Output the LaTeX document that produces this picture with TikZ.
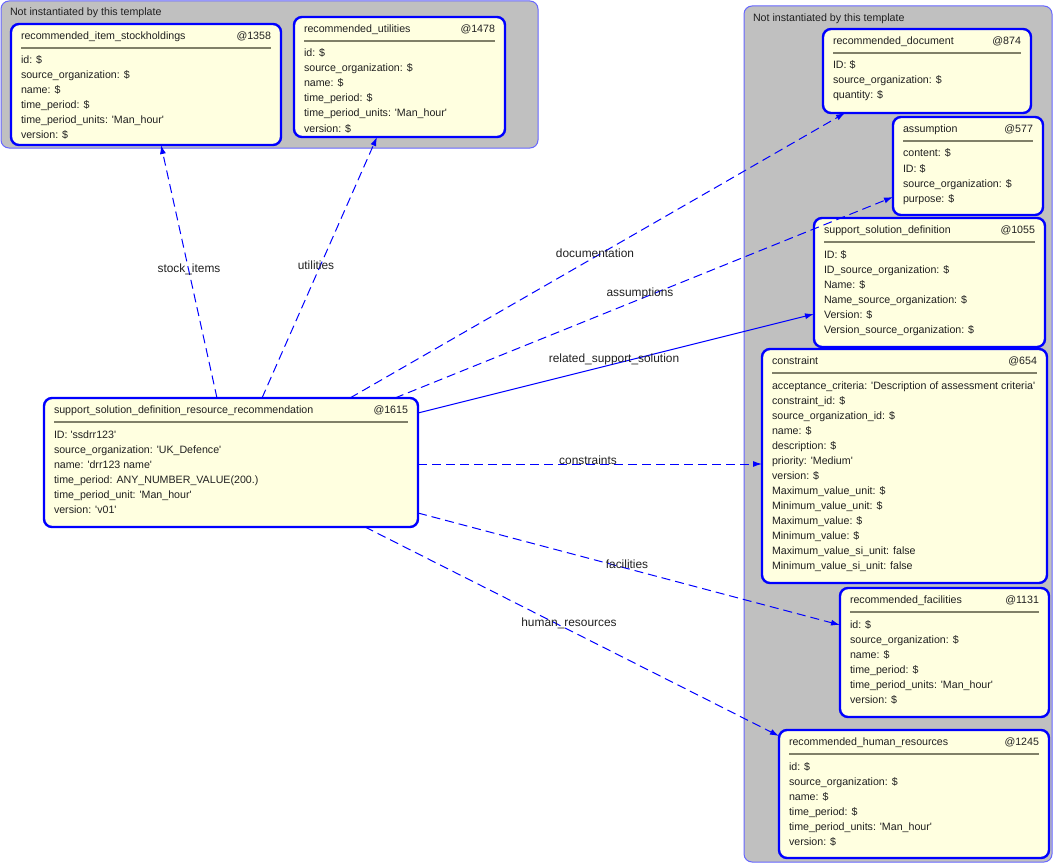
\documentclass[tikz,border=0pt]{standalone}
\usepackage{fontspec}
\setmainfont{Liberation Sans}[Ligatures=TeXOff]
\usetikzlibrary{arrows.meta}
\definecolor{boxfill}{HTML}{FFFFE0}
\definecolor{boxline}{HTML}{0000FF}
\definecolor{grpfill}{HTML}{C0C0C0}
\definecolor{grpline}{HTML}{6666FF}
\definecolor{sepline}{HTML}{808068}
\definecolor{txtc}{HTML}{202020}
\tikzset{
 ebox/.style={draw=boxline, fill=boxfill, line width=2.4pt, rounded corners=8pt, inner sep=0pt, outer sep=0pt},
 grp/.style={draw=grpline, fill=grpfill, line width=1pt, rounded corners=8pt, inner sep=0pt, outer sep=0pt},
 txt/.style={inner sep=0pt, outer sep=0pt, text=txtc, font=\fontsize{10.65}{12}\selectfont},
 lbl/.style={inner sep=0pt, text=txtc, font=\fontsize{11.9}{14}\selectfont},
 sepln/.style={draw=sepline, line width=2pt},
 conn/.style={draw=boxline, line width=1pt, -{Latex[length=9pt,width=6pt]}},
 dconn/.style={conn, dash pattern=on 9pt off 5pt},
}
\newcommand\entity[8]{%
 \node[ebox, minimum width=#4pt, minimum height=#5pt, anchor=north west] (#1) at (#2,-#3) {};
 \node[txt, anchor=base west] (#1-title) at (#2+10,-#3-15.5) {#6};
 \node[txt, anchor=base east] (#1-id) at (#2+#4-10,-#3-15.5) {#7};
 \draw[sepln] (#2+10,-#3-24) -- (#2+#4-10,-#3-24);
 \foreach \a [count=\i] in {#8} {\node[txt, anchor=base west] (#1-a\i) at (#2+10,-#3-25-15*\i) {\a};}
}
\begin{document}
\begin{tikzpicture}[x=1pt,y=1pt]
\useasboundingbox (0,0) rectangle (1054,-864);
% groups
\node[grp, minimum width=537pt, minimum height=147pt, anchor=north west] (g1) at (1,-1) {};
\node[txt, anchor=base west] (g1t) at (10,-16) {Not instantiated by this template};
\node[grp, minimum width=308pt, minimum height=856pt, anchor=north west] (g2) at (744,-6) {};
\node[txt, anchor=base west] (g2t) at (753,-22) {Not instantiated by this template};
% entities
\entity{stock}{11}{24}{270}{121}{recommended\_item\_stockholdings}{@1358}{id: \$, source\_organization: \$, name: \$, time\_period: \$, time\_period\_units: 'Man\_hour', version: \$}
\entity{util}{294}{17}{211}{120}{recommended\_utilities}{@1478}{id: \$, source\_organization: \$, name: \$, time\_period: \$, time\_period\_units: 'Man\_hour', version: \$}
\entity{doc}{823}{29}{208}{84}{recommended\_document}{@874}{ID: \$, source\_organization: \$, quantity: \$}
\entity{assum}{893}{117}{150}{98}{assumption}{@577}{content: \$, ID: \$, source\_organization: \$, purpose: \$}
\entity{ssd}{814}{218}{231}{129}{support\_solution\_definition}{@1055}{ID: \$, ID\_source\_organization: \$, Name: \$, Name\_source\_organization: \$, Version: \$, Version\_source\_organization: \$}
\entity{cons}{762}{349}{285}{234}{constraint}{@654}{acceptance\_criteria: 'Description of assessment criteria', constraint\_id: \$, source\_organization\_id: \$, name: \$, description: \$, priority: 'Medium', version: \$, Maximum\_value\_unit: \$, Minimum\_value\_unit: \$, Maximum\_value: \$, Minimum\_value: \$, Maximum\_value\_si\_unit: false, Minimum\_value\_si\_unit: false}
\entity{fac}{840}{588}{209}{129}{recommended\_facilities}{@1131}{id: \$, source\_organization: \$, name: \$, time\_period: \$, time\_period\_units: 'Man\_hour', version: \$}
\entity{hum}{779}{730}{270}{128}{recommended\_human\_resources}{@1245}{id: \$, source\_organization: \$, name: \$, time\_period: \$, time\_period\_units: 'Man\_hour', version: \$}
\entity{main}{44}{398}{374}{129}{support\_solution\_definition\_resource\_recommendation}{@1615}{ID: 'ssdrr123', source\_organization: 'UK\_Defence', name: 'drr123 name', time\_period: ANY\_NUMBER\_VALUE(200.), time\_period\_unit: 'Man\_hour', version: 'v01'}
% connectors
\draw[dconn] ([xshift=173pt]main.north west) -- ([xshift=150pt]stock.south west);
\draw[dconn] ([xshift=218pt]main.north west) -- ([xshift=83pt]util.south west);
\draw[dconn] ([xshift=306pt]main.north west) -- ([xshift=22pt]doc.south west);
\draw[dconn] ([xshift=351pt]main.north west) -- ([yshift=-80pt]assum.north west);
\draw[conn] ([yshift=-15pt]main.north east) -- ([yshift=-96pt]ssd.north west);
\draw[dconn] ([yshift=-66pt]main.north east) -- ([yshift=-115pt]cons.north west);
\draw[dconn] ([yshift=-115pt]main.north east) -- ([yshift=-37pt]fac.north west);
\draw[dconn] ([xshift=321pt]main.south west) -- ([yshift=-6pt]hum.north west);
% labels
\node[lbl] (l1) at (189,-269) {stock\_items};
\node[lbl] (l2) at (316,-265) {utilities};
\node[lbl] (l3) at (595,-253) {documentation};
\node[lbl] (l4) at (640,-293) {assumptions};
\node[lbl] (l5) at (614,-359) {related\_support\_solution};
\node[lbl] (l6) at (588,-460) {constraints};
\node[lbl] (l7) at (627,-564) {facilities};
\node[lbl] (l8) at (569,-623) {human\_resources};
\end{tikzpicture}
\end{document}
